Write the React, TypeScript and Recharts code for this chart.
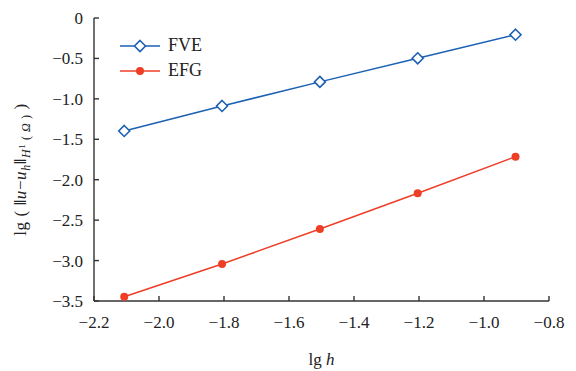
import { LineChart, Line, XAxis, YAxis, Label } from 'recharts';

const lgH = [-2.107, -1.806, -1.505, -1.204, -0.903];
const fveErr = [-1.397, -1.088, -0.79, -0.498, -0.207];
const efgErr = [-3.447, -3.042, -2.61, -2.168, -1.715];
const xTicks = [-2.2, -2.0, -1.8, -1.6, -1.4, -1.2, -1.0, -0.8];
const yTicks = [0, -0.5, -1.0, -1.5, -2.0, -2.5, -3.0, -3.5];
const seriesNames = ['FVE', 'EFG'];

const data = lgH.map((x, i) => ({ x, fve: fveErr[i], efg: efgErr[i] }));

const BLUE = '#1c60b3';
const RED = '#ef3e26';
const AXIS = '#333';
const FONT = "'Liberation Serif', serif";

const fmt = (v: number) => (v === 0 ? '0' : v.toFixed(1).replace('-', '\u2212'));

function Diamond(props: any) {
  const { cx, cy, index } = props;
  const r = 5.5;
  return (
    <path
      key={`d${index}`}
      d={`M${cx},${cy - r}L${cx + r},${cy}L${cx},${cy + r}L${cx - r},${cy}Z`}
      fill="#fff"
      stroke={BLUE}
      strokeWidth={1.6}
    />
  );
}

function Dot(props: any) {
  const { cx, cy, index } = props;
  return <circle key={`c${index}`} cx={cx} cy={cy} r={4} fill={RED} stroke="none" />;
}

function LegendBox() {
  const row = (name: string, color: string, marker: 'diamond' | 'circle') => (
    <div style={{ display: 'flex', alignItems: 'center', height: 25 }}>
      <svg width={40} height={14} style={{ marginRight: 8 }}>
        <line x1={0} y1={7} x2={40} y2={7} stroke={color} strokeWidth={1.5} />
        {marker === 'diamond' ? (
          <path d="M20,1.5L25.5,7L20,12.5L14.5,7Z" fill="#fff" stroke={color} strokeWidth={1.6} />
        ) : (
          <circle cx={20} cy={7} r={4} fill={color} />
        )}
      </svg>
      <span style={{ fontFamily: FONT, fontSize: 18, color: '#222', lineHeight: '25px' }}>{name}</span>
    </div>
  );
  return (
    <div style={{ position: 'absolute', left: 120, top: 33 }}>
      {row(seriesNames[0], BLUE, 'diamond')}
      {row(seriesNames[1], RED, 'circle')}
    </div>
  );
}

function YTitle(props: any) {
  const vb = props.viewBox || { x: 0, y: 18, width: 94, height: 283 };
  const cx = 26;
  const cy = vb.y + vb.height / 2 + 10;
  return (
    <text
      transform={`translate(${cx},${cy}) rotate(-90)`}
      textAnchor="middle"
      fontFamily={FONT}
      fontSize={17}
      fill="#222"
      letterSpacing={0.6}
    >
      <tspan>lg (   </tspan>
      <tspan fontWeight="bold">‖</tspan>
      <tspan fontStyle="italic">u</tspan>
      <tspan>−</tspan>
      <tspan fontStyle="italic">u</tspan>
      <tspan fontStyle="italic" fontSize={12} dy={4}>h</tspan>
      <tspan fontWeight="bold" dy={-4}>‖</tspan>
      <tspan fontStyle="italic" fontSize={12} dy={4}>H</tspan>
      <tspan fontSize={9} dy={-5}>1</tspan>
      <tspan fontSize={12} dy={5}>  (  </tspan>
      <tspan fontSize={12} fontStyle="italic">Ω</tspan>
      <tspan fontSize={12}>  )</tspan>
      <tspan dy={-4}>    )</tspan>
    </text>
  );
}

function XTitle(props: any) {
  const vb = props.viewBox || { x: 94, y: 301, width: 455, height: 70 };
  return (
    <text
      x={vb.x + vb.width / 2}
      y={vb.y + 64}
      textAnchor="middle"
      fontFamily={FONT}
      fontSize={17}
      fill="#222"
    >
      lg <tspan fontStyle="italic">h</tspan>
    </text>
  );
}

export default function App() {
  const tickStyle = { fill: '#222', fontSize: 17, fontFamily: FONT };
  return (
    <div style={{ position: 'absolute', left: 0, top: 0, width: 576, height: 371, background: '#fff' }}>
      <LineChart width={576} height={371} data={data} margin={{ top: 18, right: 27, left: 0, bottom: 0 }}>
        <XAxis
          dataKey="x"
          type="number"
          domain={[-2.2, -0.8]}
          ticks={xTicks}
          tickFormatter={fmt}
          tick={tickStyle}
          tickSize={-5}
          tickMargin={20}
          height={70}
          stroke={AXIS}
          strokeWidth={1.4}
          interval={0}
        >
          <Label content={<XTitle />} />
        </XAxis>
        <YAxis
          type="number"
          domain={[-3.5, 0]}
          ticks={yTicks}
          tickFormatter={fmt}
          tick={tickStyle}
          tickSize={-5}
          tickMargin={16}
          width={94}
          stroke={AXIS}
          strokeWidth={1.4}
          interval={0}
        >
          <Label content={<YTitle />} />
        </YAxis>
        <Line
          dataKey="fve"
          name="FVE"
          stroke={BLUE}
          strokeWidth={1.5}
          dot={Diamond}
          isAnimationActive={false}
        />
        <Line
          dataKey="efg"
          name="EFG"
          stroke={RED}
          strokeWidth={1.5}
          dot={Dot}
          isAnimationActive={false}
        />
      </LineChart>
      <LegendBox />
    </div>
  );
}
